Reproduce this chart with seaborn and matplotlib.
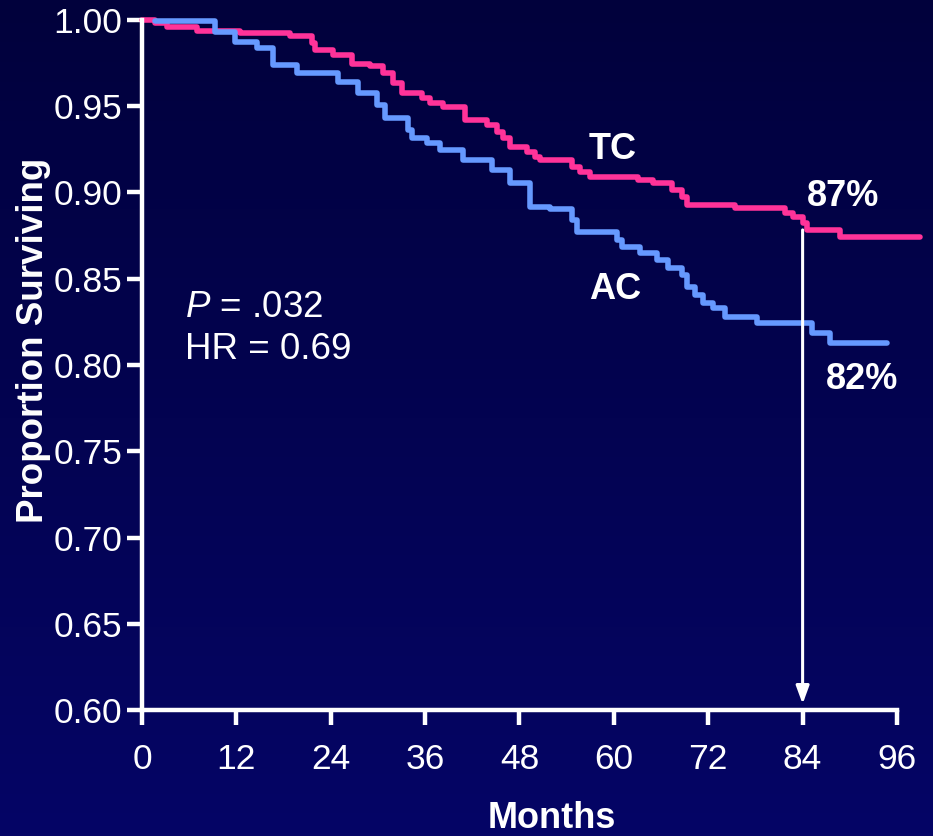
import numpy as np
import pandas as pd
import matplotlib
matplotlib.use("Agg")
import matplotlib.pyplot as plt
import seaborn as sns

# Kaplan-Meier step points (months, proportion surviving)
tc_months = [0.0, 1.4, 1.7, 3.2, 7.0, 12.5, 18.8, 21.6, 22.0, 24.3, 26.7, 29.0,
             30.6, 31.9, 33.1, 35.6, 36.6, 38.3, 41.1, 43.9, 45.1, 45.9, 46.8,
             49.0, 50.0, 50.6, 54.7, 55.7, 57.0, 63.1, 65.0, 67.4, 68.7, 69.3,
             75.4, 81.8, 82.8, 84.0, 84.6, 88.7, 98.9]
tc_surv = [1.000, 1.000, 0.9983, 0.9959, 0.9936, 0.9925, 0.9907, 0.9867, 0.9826,
           0.9797, 0.9745, 0.9733, 0.9693, 0.9635, 0.9577, 0.9548, 0.9519, 0.9496,
           0.9420, 0.9391, 0.9351, 0.9316, 0.9264, 0.9235, 0.9206, 0.9188, 0.9148,
           0.9119, 0.9090, 0.9072, 0.9055, 0.9014, 0.8974, 0.8928, 0.8910, 0.8881,
           0.8858, 0.8823, 0.8783, 0.8742, 0.8742]

ac_months = [1.6, 9.3, 11.8, 14.6, 16.7, 19.7, 24.9, 27.5, 29.9, 30.9, 33.8, 34.3,
             36.2, 37.9, 40.8, 44.5, 46.8, 49.3, 51.9, 54.7, 55.3, 60.4, 61.0,
             63.3, 65.5, 66.9, 68.7, 69.3, 70.3, 71.3, 72.6, 74.1, 78.2, 85.2,
             87.5, 94.7]
ac_surv = [0.9994, 0.9930, 0.9872, 0.9838, 0.9739, 0.9693, 0.9641, 0.9577, 0.9507,
           0.9432, 0.9362, 0.9316, 0.9287, 0.9246, 0.9188, 0.9130, 0.9055, 0.8916,
           0.8904, 0.8841, 0.8771, 0.8725, 0.8684, 0.8649, 0.8609, 0.8562, 0.8522,
           0.8452, 0.8406, 0.8359, 0.8330, 0.8278, 0.8243, 0.8186, 0.8128, 0.8128]

x_ticks = [0, 12, 24, 36, 48, 60, 72, 84, 96]
y_ticks = [0.60, 0.65, 0.70, 0.75, 0.80, 0.85, 0.90, 0.95, 1.00]

tc_color = "#ff3399"
ac_color = "#6699ff"

sns.set_theme(style="white")
plt.rcParams["font.family"] = ["Liberation Sans", "DejaVu Sans"]
plt.rcParams["mathtext.fontset"] = "custom"
plt.rcParams["mathtext.it"] = "Liberation Sans:italic"
plt.rcParams["mathtext.rm"] = "Liberation Sans"

df = pd.concat([
    pd.DataFrame({"Months": tc_months, "Surv": tc_surv, "arm": "TC"}),
    pd.DataFrame({"Months": ac_months, "Surv": ac_surv, "arm": "AC"}),
])

fig = plt.figure(figsize=(9.33, 8.36), dpi=100)

# navy gradient background
bg = fig.add_axes([0, 0, 1, 1], zorder=-1)
grad = np.linspace(0, 1, 256).reshape(-1, 1)
cmap = matplotlib.colors.LinearSegmentedColormap.from_list("navy", ["#01013c", "#050566"])
bg.imshow(grad, aspect="auto", cmap=cmap, extent=[0, 1, 0, 1])
bg.axis("off")

ax = fig.add_axes([0.1522, 0.1507, 0.8092, 0.8254])
ax.set_facecolor("none")

sns.lineplot(data=df, x="Months", y="Surv", hue="arm",
             palette={"TC": tc_color, "AC": ac_color}, estimator=None,
             sort=False, drawstyle="steps-post", lw=4, legend=False,
             ax=ax, clip_on=False)

ax.set_xlim(0, 96)
ax.set_ylim(0.60, 1.00)
ax.set_xticks(x_ticks)
ax.set_yticks(y_ticks)
ax.set_yticklabels([f"{v:.2f}" for v in y_ticks])

for s in ["top", "right"]:
    ax.spines[s].set_visible(False)
for s in ["left", "bottom"]:
    ax.spines[s].set_color("white")
    ax.spines[s].set_linewidth(3.2)
ax.tick_params(axis="both", colors="white", labelcolor="white", labelsize=25.5,
               width=3.2, length=11, direction="out")
ax.tick_params(axis="x", pad=13)
ax.tick_params(axis="y", pad=3)
ax.xaxis.set_ticks_position("bottom")
ax.yaxis.set_ticks_position("left")

ax.set_xlabel("Months", color="white", fontsize=26, fontweight="bold", labelpad=18)
ax.set_ylabel("Proportion Surviving", color="white", fontsize=26.5,
              fontweight="bold", labelpad=2)
ax.xaxis.label.set_x(0.543)
ax.yaxis.label.set_y(0.536)

# 84-month marker
ax.annotate("", xy=(84, 0.6035), xytext=(84, 0.8783),
            arrowprops=dict(arrowstyle="-|>,head_length=0.9,head_width=0.33",
                            color="white", lw=2.2, shrinkA=0, shrinkB=0))

txt = dict(color="white", fontsize=26, fontweight="bold", va="center", ha="left")
ax.text(56.8, 0.9248, "TC", **txt)
ax.text(56.8, 0.8438, "AC", **txt)
ax.text(84.5, 0.8976, "87%", **txt)
ax.text(87.0, 0.7917, "82%", **txt)
ax.text(5.5, 0.8333, r"$\mathit{P}$ = .032", color="white", fontsize=26.5,
        va="center", ha="left")
ax.text(5.5, 0.8090, "HR = 0.69", color="white", fontsize=26.5,
        va="center", ha="left")

fig.savefig("out.png", dpi=100)
